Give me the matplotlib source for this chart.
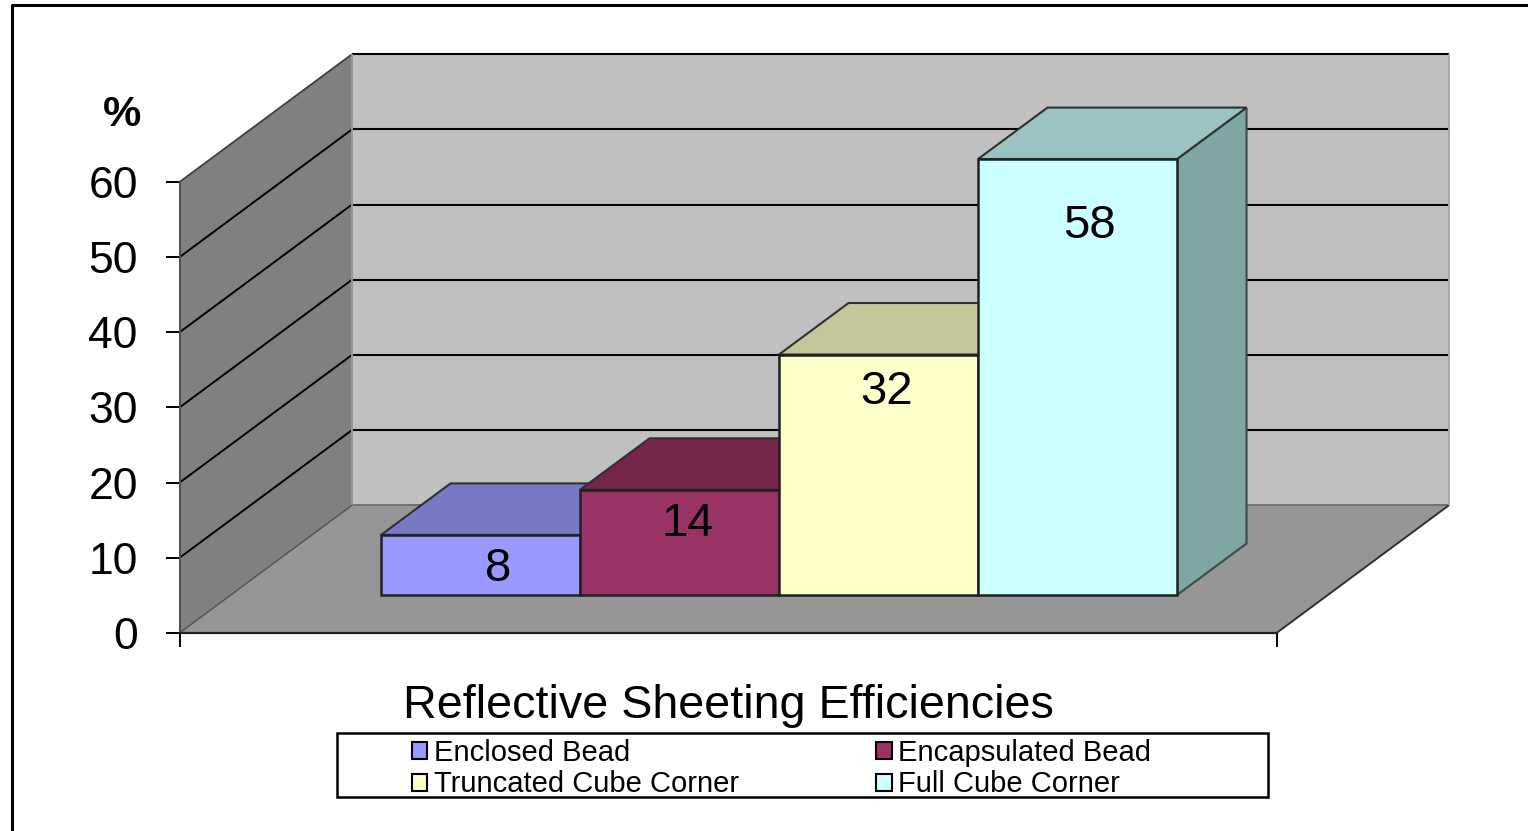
import matplotlib
matplotlib.use("Agg")
import matplotlib.pyplot as plt
from matplotlib.lines import Line2D
from matplotlib.patches import Patch, Rectangle

plt.rcParams['font.family'] = ['Liberation Sans', 'DejaVu Sans']

# ─── Data ─────────────────────────────────────────────────────────────────────
categories = ['Enclosed Bead', 'Encapsulated Bead', 'Truncated Cube Corner', 'Full Cube Corner']
values = [8, 14, 32, 58]
y_ticks = [0, 10, 20, 30, 40, 50, 60]

front_colors = ['#9999ff', '#993366', '#ffffcc', '#ccffff']
top_colors = ['#7878c4', '#76264b', '#c6c69b', '#9bc3c3']
side_colors = ['#6a6aae', '#66223f', '#a8a87e', '#80a5a5']

# ─── Layout ───────────────────────────────────────────────────────────────────
W, H = 1528, 831
DEPTH_X = 172.5 / 1097   # axes units of x per full depth
DEPTH_Y = 17.0           # percent units of y per full depth
BAR_W = 0.1814
GAP = 0.137
Z_FRONT, Z_BACK = 0.297, 0.70
TOP = y_ticks[-1]

fig = plt.figure(figsize=(W / 100, H / 100), dpi=100, facecolor='white')
ax = fig.add_axes([179.5 / W, (H - 633) / H, 1097 / W, 451 / H])
ax.set_xlim(0, 1)
ax.set_ylim(0, TOP)
ax.patch.set_visible(False)


def prj(x, v, z):
    return x + z * DEPTH_X, v + z * DEPTH_Y


def face(points, color, edge=None, lw=0.0, z=1):
    xs, ys = zip(*[prj(*p) for p in points])
    ax.fill(xs, ys, facecolor=color, edgecolor=edge or color, linewidth=lw,
            clip_on=False, zorder=z, joinstyle='miter')


def seg(p0, p1, color='black', lw=1.5, z=2):
    a, b = prj(*p0), prj(*p1)
    ax.plot([a[0], b[0]], [a[1], b[1]], color=color, lw=lw, clip_on=False,
            zorder=z, solid_capstyle='butt')


# ── Walls and floor ───────────────────────────────────────────────────────────
face([(0, 0, 1), (1, 0, 1), (1, TOP, 1), (0, TOP, 1)], '#c0c0c0')
face([(0, 0, 0), (0, 0, 1), (0, TOP, 1), (0, TOP, 0)], '#808080')
face([(0, 0, 0), (1, 0, 0), (1, 0, 1), (0, 0, 1)], '#969696')

for t in y_ticks[1:]:
    seg((0, t, 1), (1, t, 1))
    if t < TOP:
        seg((0, t, 0), (0, t, 1), lw=1.4)
seg((0, TOP, 0), (0, TOP, 1), color='#404040', lw=1.3)
seg((0, 0, 1), (1, 0, 1), color='#707070', lw=1.4)
seg((0, 0, 0), (0, 0, 1), color='#505050', lw=1.0)
seg((1, 0, 0), (1, 0, 1), color='#303030', lw=1.4)
seg((0, 0, 1), (0, TOP, 1), color='#999999', lw=1.4)
seg((1, 0, 1), (1, TOP, 1), color='#a8a8a8', lw=1.4)
seg((0, 0, 0), (0, TOP, 0), color='#505050', lw=1.4)

# ── Bars, left to right so each one covers the side of the last ───────────────
label_offsets = [(18, -34), (8, -34), (8, -37), (12, -67)]
for i, v in enumerate(values):
    x0 = GAP + i * BAR_W
    x1 = x0 + BAR_W
    zo = 3 + i
    face([(x1, 0, Z_FRONT), (x1, 0, Z_BACK), (x1, v, Z_BACK), (x1, v, Z_FRONT)],
         side_colors[i], edge='#3c4c4c', lw=1.5, z=zo)
    face([(x0, v, Z_FRONT), (x1, v, Z_FRONT), (x1, v, Z_BACK), (x0, v, Z_BACK)],
         top_colors[i], edge='#303030', lw=1.5, z=zo)
    face([(x0, 0, Z_FRONT), (x1, 0, Z_FRONT), (x1, v, Z_FRONT), (x0, v, Z_FRONT)],
         front_colors[i], edge='#202020', lw=1.8, z=zo)
    cx, cy = prj((x0 + x1) / 2, v, Z_FRONT)
    ax.annotate(str(v), (cx, cy), xytext=label_offsets[i], textcoords='offset pixels',
                ha='center', va='center', fontsize=34, color='black', zorder=20,
                annotation_clip=False)

# ── Axes ──────────────────────────────────────────────────────────────────────
for name in ('top', 'right'):
    ax.spines[name].set_visible(False)
ax.spines['left'].set_color('#505050')
ax.spines['left'].set_linewidth(1.4)
ax.spines['bottom'].set_color('#222222')
ax.spines['bottom'].set_linewidth(1.6)
ax.spines['bottom'].set_zorder(2.5)
ax.set_yticks(y_ticks)
ax.set_xticks([0, 1])
ax.set_xticklabels(['', ''])
ax.tick_params(axis='y', length=10, width=1.4, color='black', labelsize=32, pad=20)
ax.tick_params(axis='x', length=10, width=1.4, color='black', pad=0)
ax.set_xlabel('Reflective Sheeting Efficiencies', fontsize=33.6, labelpad=27)
ax.text(-0.052, 1.148, '%', transform=ax.transAxes, ha='center', va='center',
        fontsize=31, fontweight='bold')

# ── Legend, filled column by column so the rows read across ───────────────────
order = [0, 2, 1, 3]
handles = [Patch(facecolor=front_colors[i], edgecolor='black', linewidth=1.5) for i in order]
labels = [categories[i] for i in order]
fig.add_artist(Rectangle((337 / W, (H - 797) / H), 931 / W, 64 / H, transform=fig.transFigure,
                         facecolor='white', edgecolor='black', linewidth=1.8))
leg = fig.legend(handles, labels, ncols=2, frameon=False, fontsize=21,
                 loc='upper left', bbox_to_anchor=(412 / W, (H - 739) / H),
                 bbox_transform=fig.transFigure, borderpad=0, borderaxespad=0,
                 handlelength=0.52, handleheight=0.52, handletextpad=0.22,
                 columnspacing=4.72, labelspacing=0.12)

# ── Outer frame, cut off by the right and bottom of the picture ───────────────
fig.add_artist(Line2D([12 / W, 12 / W, 1], [0, (H - 5) / H, (H - 5) / H], color='black',
                      linewidth=2.2, transform=fig.transFigure))

fig.savefig('out.png', dpi=100)
